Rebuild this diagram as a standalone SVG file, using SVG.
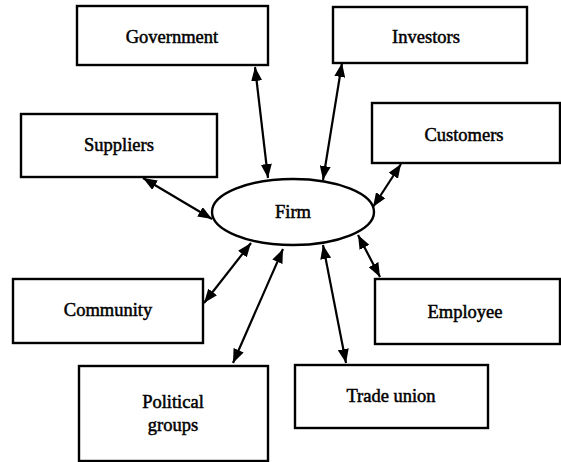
<svg xmlns="http://www.w3.org/2000/svg" width="561" height="462" viewBox="0 0 561 462">
<defs>
<marker id="ah" viewBox="0 0 14 11" refX="14" refY="5.5" markerWidth="14" markerHeight="11" markerUnits="userSpaceOnUse" orient="auto-start-reverse">
<path d="M0,0 L14,5.5 L0,11 Z" fill="#000"/>
</marker>
<style>
.box{fill:#fff;stroke:#000;stroke-width:2.4}
.lbl{font-family:"Liberation Serif","Times New Roman",serif;font-size:18.5px;fill:#000;stroke:#000;stroke-width:0.5;text-anchor:middle;dominant-baseline:central}
.con{stroke:#000;stroke-width:2.2;fill:none;marker-start:url(#ah);marker-end:url(#ah)}
</style>
</defs>
<rect width="561" height="462" fill="#fff"/>
<g id="connectors">
<line class="con" x1="255" y1="67" x2="268" y2="178"/>
<line class="con" x1="342" y1="63" x2="323" y2="180"/>
<line class="con" x1="401" y1="164" x2="373" y2="207"/>
<line class="con" x1="143" y1="178" x2="212" y2="219"/>
<line class="con" x1="251" y1="243" x2="204" y2="303"/>
<line class="con" x1="283" y1="249" x2="233" y2="363"/>
<line class="con" x1="323" y1="245" x2="346" y2="363"/>
<line class="con" x1="358" y1="235" x2="380" y2="277"/>
</g>
<g id="firm">
<ellipse cx="293" cy="212" rx="81" ry="33" fill="#fff" stroke="#000" stroke-width="2.4"/>
<text class="lbl" x="293" y="212">Firm</text>
</g>
<g id="government">
<rect class="box" x="77" y="6" width="191" height="59"/>
<text class="lbl" x="172" y="37">Government</text>
</g>
<g id="investors">
<rect class="box" x="333" y="7" width="194" height="56"/>
<text class="lbl" x="426" y="37">Investors</text>
</g>
<g id="customers">
<rect class="box" x="372" y="103" width="188" height="60"/>
<text class="lbl" x="464" y="135">Customers</text>
</g>
<g id="suppliers">
<rect class="box" x="21" y="114" width="196" height="63"/>
<text class="lbl" x="119" y="145">Suppliers</text>
</g>
<g id="community">
<rect class="box" x="13" y="279" width="190" height="64"/>
<text class="lbl" x="108" y="310">Community</text>
</g>
<g id="employee">
<rect class="box" x="375" y="279" width="185" height="65"/>
<text class="lbl" x="465" y="312">Employee</text>
</g>
<g id="political-groups">
<rect class="box" x="79" y="366" width="189" height="95"/>
<text class="lbl" x="173" y="402">Political</text>
<text class="lbl" x="173" y="425">groups</text>
</g>
<g id="trade-union">
<rect class="box" x="295" y="365" width="193" height="63"/>
<text class="lbl" x="391" y="396">Trade union</text>
</g>
</svg>
